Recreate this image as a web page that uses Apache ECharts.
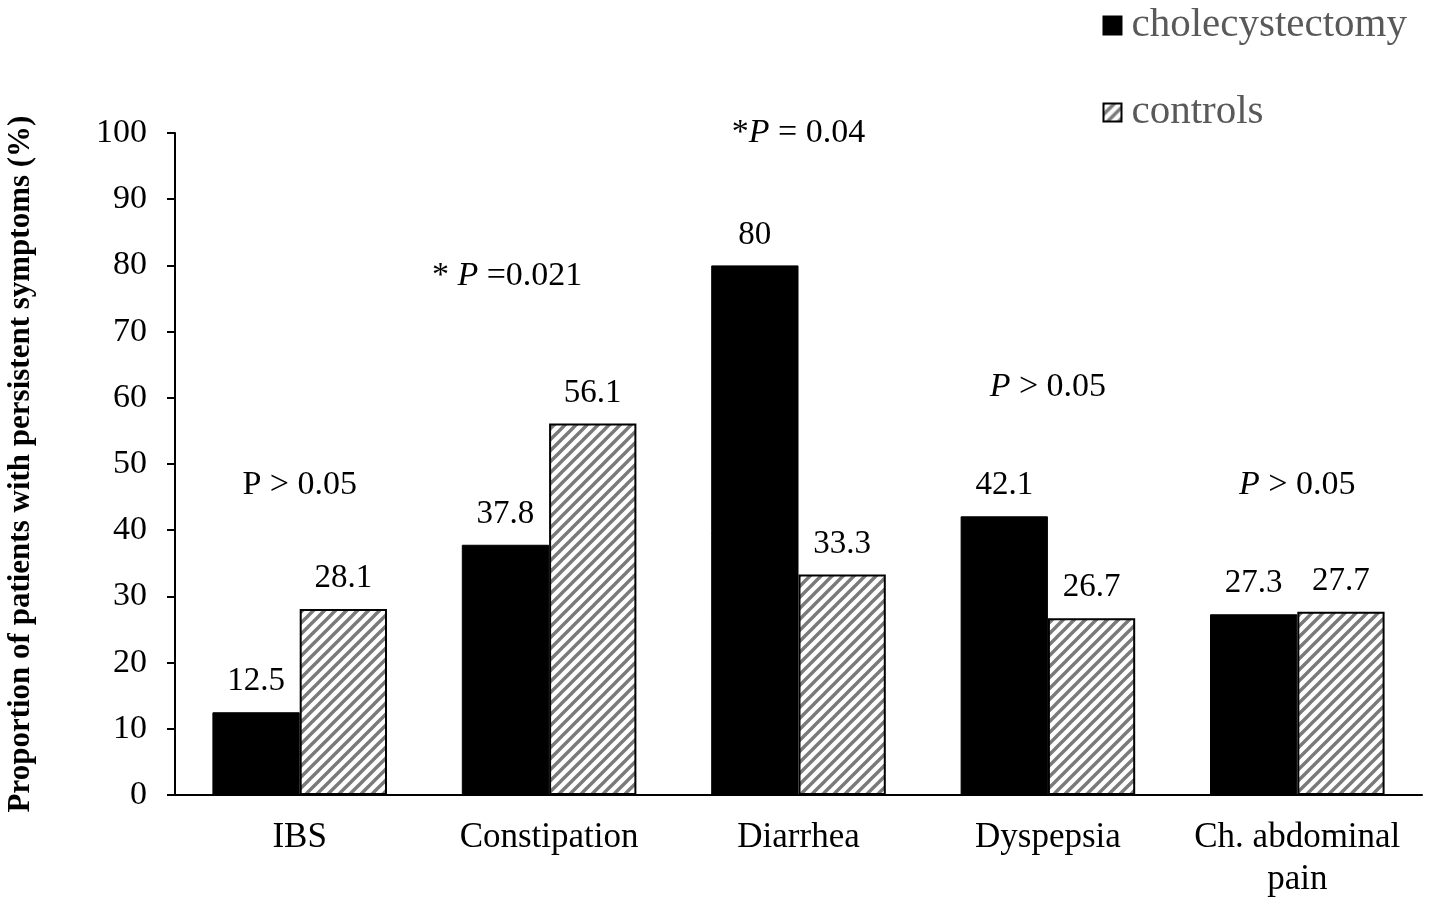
<!DOCTYPE html>
<html>
<head>
<meta charset="utf-8">
<script src="https://cdn.jsdelivr.net/npm/echarts@6/dist/echarts.min.js"></script>
<style>
  html, body { margin: 0; padding: 0; background: #fff; }
  #chartmain { width: 1430px; height: 901px; }
</style>
</head>
<body>
<div id="chartmain"></div>
<script>
// data
var categories = ['IBS', 'Constipation', 'Diarrhea', 'Dyspepsia', 'Ch. abdominal\npain'];
var cholecystectomy = [12.5, 37.8, 80, 42.1, 27.3];
var controls = [28.1, 56.1, 33.3, 26.7, 27.7];
var yTicks = [0, 10, 20, 30, 40, 50, 60, 70, 80, 90, 100];
// p-value notes and the height (in %) where each sits
var pNotes = ['P > 0.05', '* {i|P} =0.021', '*{i|P} = 0.04', '{i|P} > 0.05', '{i|P} > 0.05'];
var pLevels = [46.8, 78.4, 100, 61.6, 46.8];

var serif = '"Liberation Serif", "DejaVu Serif", serif';

// diagonal hatch for controls
function hatch() {
    var s = 11;
    var c = document.createElement('canvas');
    c.width = s; c.height = s;
    var g = c.getContext('2d');
    g.fillStyle = '#fff';
    g.fillRect(0, 0, s, s);
    g.strokeStyle = '#7a7a7a';
    g.lineWidth = 3.4;
    g.beginPath();
    g.moveTo(-1, s + 1); g.lineTo(s + 1, -1);
    g.moveTo(-3, 3); g.lineTo(3, -3);
    g.moveTo(s - 3, s + 3); g.lineTo(s + 3, s - 3);
    g.stroke();
    return c;
}

var myChart = echarts.init(document.getElementById('chartmain'), null, {renderer: 'canvas'});

var option = {
    animation: false,
    backgroundColor: '#fff',
    textStyle: {fontFamily: serif, color: '#000'},
    grid: {left: 175, right: 8, top: 133, bottom: 106, outerBoundsMode: 'none'},
    legend: {
        orient: 'vertical',
        right: 18,
        top: 0,
        icon: 'rect',
        itemWidth: 18,
        itemHeight: 18,
        itemGap: 46,
        textStyle: {fontFamily: serif, fontSize: 41, color: '#595959', padding: [0, 0, 0, 5]},
        data: ['cholecystectomy', 'controls']
    },
    xAxis: {
        type: 'category',
        data: categories,
        axisLine: {lineStyle: {color: '#000', width: 2}},
        axisTick: {show: false},
        axisLabel: {fontFamily: serif, fontSize: 35, color: '#000', margin: 22, lineHeight: 42, interval: 0}
    },
    yAxis: {
        type: 'value',
        min: yTicks[0],
        max: yTicks[yTicks.length - 1],
        interval: 10,
        name: 'Proportion of patients with persistent symptoms (%)',
        nameLocation: 'middle',
        nameGap: 139,
        nameTextStyle: {fontFamily: serif, fontSize: 31, fontWeight: 'bold', color: '#000'},
        axisLine: {show: true, lineStyle: {color: '#000', width: 2}},
        axisTick: {show: true, inside: false, length: 8, lineStyle: {color: '#000', width: 2}},
        axisLabel: {fontFamily: serif, fontSize: 34, color: '#000', margin: 28},
        splitLine: {show: false}
    },
    series: [
        {
            name: 'cholecystectomy',
            type: 'bar',
            data: cholecystectomy,
            barGap: '0%',
            barCategoryGap: '30%',
            itemStyle: {color: '#000', borderColor: '#000', borderWidth: 1},
            label: {show: true, position: 'top', distance: 14, fontFamily: serif, fontSize: 33, color: '#000'}
        },
        {
            name: 'controls',
            type: 'bar',
            data: controls,
            barGap: '0%',
            barCategoryGap: '30%',
            itemStyle: {color: {image: hatch(), repeat: 'repeat'}, borderColor: '#000', borderWidth: 2},
            label: {show: true, position: 'top', distance: 14, fontFamily: serif, fontSize: 33, color: '#000'}
        }
    ]
};
myChart.setOption(option);

// place the p-value notes through the chart's own scales
var notes = [];
for (var i = 0; i < categories.length; i++) {
    var pt = myChart.convertToPixel({xAxisIndex: 0, yAxisIndex: 0}, [i, pLevels[i]]);
    var dx = (i === 1) ? -42 : 0; // the constipation note sits over the black bar
    notes.push({
        type: 'text',
        x: pt[0] + dx,
        y: pt[1],
        style: {
            text: pNotes[i],
            fontFamily: serif,
            fontSize: 34,
            fill: '#000',
            align: 'center',
            verticalAlign: 'middle',
            rich: {i: {fontFamily: serif, fontSize: 34, fontStyle: 'italic', fill: '#000'}}
        }
    });
}
myChart.setOption({graphic: notes});
</script>
</body>
</html>
